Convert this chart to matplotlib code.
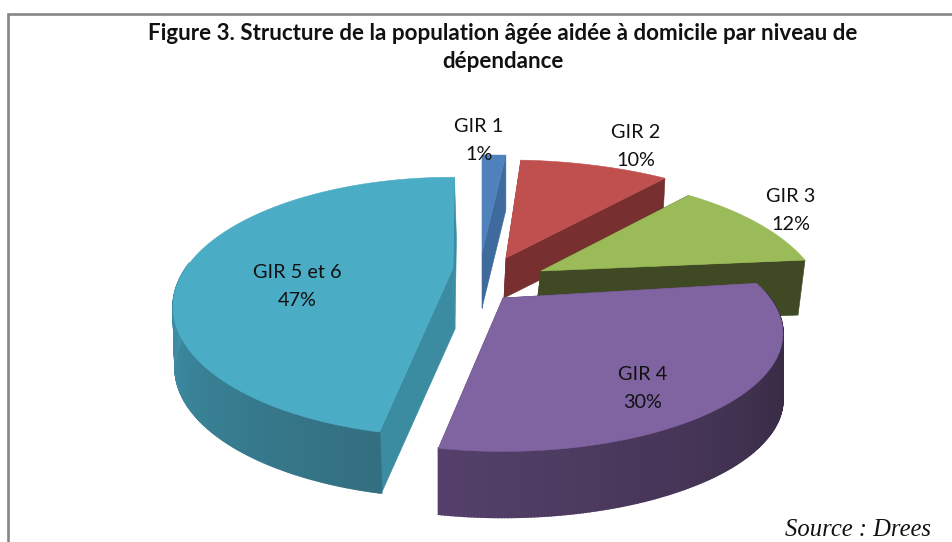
import numpy as np
import matplotlib
matplotlib.use("Agg")
import matplotlib.pyplot as plt
from matplotlib.colors import to_rgb
from matplotlib.patches import Polygon

# data
categories = ["GIR 1", "GIR 2", "GIR 3", "GIR 4", "GIR 5 et 6"]
values = [1, 10, 12, 30, 47]
title = "Figure 3. Structure de la population âgée aidée à domicile par niveau de\ndépendance"
source = "Source : Drees"

# style / layout
top_colors = ["#4F81BD", "#C0504D", "#9BBB59", "#8064A2", "#4BACC6"]
cut_colors = ["#3E6A9E", "#772F2F", "#3F4A24", "#4A3860", "#3B8BA1"]
wall_start = ["#3E6A9E", "#772F2F", "#3F4A24", "#2F2438", "#336F80"]
wall_end = ["#3E6A9E", "#772F2F", "#3F4A24", "#54406A", "#3F94AC"]
apex_x = [482, 506, 541, 503, 453]
apex_y = [253, 258, 271, 298, 268]
scale_x = [1.85, 1.15, 1.02, 1.0, 1.0]
scale_y = [1.08, 1.08, 1.05, 0.91, 1.0]
angle_shift = [0, 0, 2, -1, 0.4]
depth = [55, 40, 55, 66, 61]
depth_dx = [0, -2, -7, 0, 2]
label_xy = [(479, 127), (636, 133), (791, 197), (643, 375), (297, 273)]
draw_order = [0, 1, 2, 4, 3]
A, B, K = 267.0, 118.0, 0.30

fig = plt.figure(figsize=(9.53, 5.42), dpi=100, facecolor="white")
ax = fig.add_axes([0, 0, 1, 1])
ax.set_xlim(0, 953)
ax.set_ylim(542, 0)
ax.axis("off")

ax.plot([8, 8, 953], [542, 14, 14], color="#868686", lw=1.9, solid_joinstyle="miter")

edges = np.concatenate([[0], np.cumsum(values)]) * 360.0 / sum(values)


def project(theta, i):
    t = np.radians(theta + angle_shift[i])
    w = 1 + K * np.cos(t)
    return (apex_x[i] + scale_x[i] * A * np.sin(t) / w,
            apex_y[i] - scale_y[i] * B * np.cos(t) / w)


for z, i in enumerate(draw_order):
    t0, t1 = edges[i], edges[i + 1]
    th = np.linspace(t0, t1, max(int(t1 - t0) * 2, 8))
    x, y = project(th, i)
    dx, dy = depth_dx[i], depth[i]
    x0, y0 = apex_x[i], apex_y[i]
    # flat cut faces
    for xe, ye in ((x[0], y[0]), (x[-1], y[-1])):
        ax.add_patch(Polygon([(x0, y0), (xe, ye), (xe + dx, ye + dy), (x0 + dx, y0 + dy)],
                             fc=cut_colors[i], ec=cut_colors[i], lw=0.4, zorder=3 + z))
    # curved outer wall, shaded by strips on the visible front part
    c0, c1 = np.array(to_rgb(wall_start[i])), np.array(to_rgb(wall_end[i]))
    idx = np.where(np.cos(np.radians(th + angle_shift[i])) < 0.05)[0]
    for n, (a, b) in enumerate(zip(idx[:-1], idx[1:])):
        if b != a + 1:
            continue
        c = tuple(c0 + (c1 - c0) * n / max(len(idx) - 2, 1))
        ax.add_patch(Polygon([(x[a], y[a]), (x[b], y[b]), (x[b] + dx, y[b] + dy), (x[a] + dx, y[a] + dy)],
                             fc=c, ec=c, lw=1.2, zorder=3 + z))
    ax.add_patch(Polygon(np.column_stack([np.r_[x0, x], np.r_[y0, y]]),
                         fc=top_colors[i], ec=top_colors[i], lw=0.4, zorder=3 + z))

for c, v, (lx, ly) in zip(categories, values, label_xy):
    ax.text(lx, ly, c, ha="center", va="center", fontsize=14.3, family="Lato", color="#111111", zorder=20)
    ax.text(lx, ly + 28, f"{v}%", ha="center", va="center", fontsize=14.3, family="Lato", color="#111111", zorder=20)

ax.text(503, 47.5, title, ha="center", va="center", fontsize=16.1, fontweight="bold",
        family="Lato", color="#111111", linespacing=1.4)
ax.text(858, 530, source, ha="center", va="center", fontsize=17.7, style="italic",
        family="Liberation Serif", color="#111111")

fig.savefig("out.png", dpi=100, facecolor="white")
